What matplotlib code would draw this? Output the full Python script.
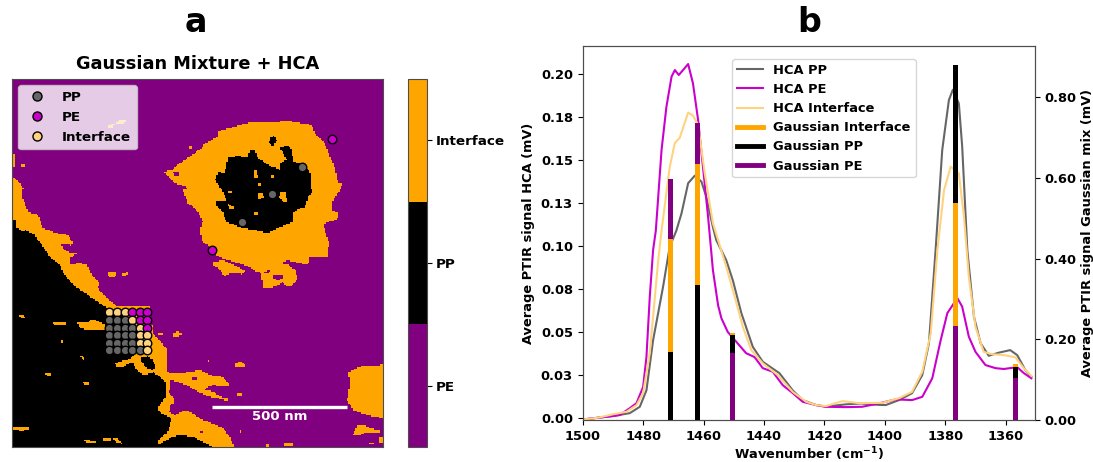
import numpy as np
import matplotlib
matplotlib.use("Agg")
import matplotlib.pyplot as plt
from matplotlib.colors import ListedColormap
from matplotlib.lines import Line2D
from matplotlib.path import Path

plt.rcParams["font.family"] = "DejaVu Sans"
plt.rcParams["font.weight"] = "bold"
plt.rcParams["axes.labelweight"] = "bold"
plt.rcParams["axes.titleweight"] = "bold"
plt.rcParams["axes.edgecolor"] = "#4d4d4d"
plt.rcParams["mathtext.default"] = "bf"

W, H = 1093, 462

PURPLE = "#800080"
ORANGE = "#FFA500"
GREY = "#666666"
MAGENTA = "#CC00CC"
PALE = "#FFD27F"

# spectra
pp_wn = [1500, 1495, 1490, 1484.4, 1481.1, 1478.9, 1476.7, 1473.4, 1471.2, 1469, 1467.3, 1465.1, 1462.9, 1460.7, 1459.1, 1456.9, 1455.8, 1452.5, 1450.3, 1447.5, 1443.7, 1440.4, 1434.9, 1430.5, 1427.2, 1422.8, 1419.5, 1413, 1408, 1402, 1399.7, 1395.3, 1391, 1387.6, 1385.4, 1383.2, 1381, 1378.8, 1377.5, 1375.5, 1374.4, 1372.7, 1370.5, 1368.3, 1365.6, 1362.3, 1358.5, 1356.2, 1353.5, 1351.5]
pp_sig = [-0.001, 0.0, 0.001, 0.0027, 0.0064, 0.016, 0.0452, 0.0763, 0.0996, 0.109, 0.119, 0.1366, 0.141, 0.1375, 0.1287, 0.111, 0.1035, 0.0918, 0.08, 0.061, 0.0413, 0.0326, 0.026, 0.016, 0.0103, 0.0074, 0.0065, 0.0078, 0.0083, 0.0075, 0.0074, 0.0103, 0.0143, 0.0249, 0.0434, 0.0977, 0.156, 0.185, 0.191, 0.183, 0.158, 0.0977, 0.0588, 0.0434, 0.0361, 0.0379, 0.0394, 0.0365, 0.0278, 0.0239]

pe_wn = [1500, 1495, 1490, 1487.7, 1484.4, 1482.2, 1480, 1478.9, 1477.8, 1476.7, 1475.8, 1473.9, 1472.3, 1470.6, 1469.5, 1468.2, 1465.1, 1463.5, 1461.8, 1460.2, 1458.5, 1456.9, 1455.2, 1454.1, 1452, 1449.2, 1445.9, 1443.1, 1440.4, 1437.1, 1433.8, 1430.5, 1427.2, 1422.8, 1419.5, 1412.9, 1407.5, 1401.9, 1396.4, 1391, 1387.6, 1384.3, 1381.5, 1379.3, 1376, 1374.4, 1372.2, 1370, 1366.7, 1363.4, 1360.6, 1356.2, 1354, 1351.5]
pe_sig = [-0.001, 0.0, 0.001, 0.0016, 0.0056, 0.0085, 0.018, 0.0355, 0.0705, 0.0977, 0.109, 0.156, 0.181, 0.1986, 0.2025, 0.1996, 0.206, 0.1947, 0.1734, 0.1462, 0.117, 0.086, 0.0656, 0.058, 0.05, 0.0443, 0.0376, 0.0353, 0.0289, 0.0268, 0.019, 0.0144, 0.0093, 0.0074, 0.0064, 0.0062, 0.0064, 0.0084, 0.0107, 0.0103, 0.0122, 0.023, 0.0453, 0.061, 0.0697, 0.0647, 0.0472, 0.0384, 0.0307, 0.0289, 0.0284, 0.0295, 0.026, 0.023]

int_wn = [1500, 1495, 1490, 1485.5, 1482.2, 1480, 1477.8, 1476.1, 1475, 1473.9, 1471.2, 1469.5, 1467.9, 1465.1, 1463.5, 1461.8, 1459.6, 1456.9, 1452.5, 1449.7, 1447, 1444.2, 1440.4, 1435.4, 1430.5, 1426, 1422.8, 1419.5, 1414, 1408.5, 1400.8, 1395.3, 1391, 1387.6, 1384.8, 1382.6, 1380.4, 1378.2, 1375.5, 1373.8, 1372.2, 1370, 1367.3, 1364.5, 1360.6, 1356.8, 1354, 1351.5]
int_sig = [-0.001, 0.0, 0.002, 0.0035, 0.0074, 0.0144, 0.0377, 0.0705, 0.0918, 0.109, 0.146, 0.16, 0.163, 0.1777, 0.176, 0.1705, 0.1423, 0.1133, 0.088, 0.0705, 0.053, 0.0394, 0.0317, 0.0248, 0.0151, 0.0093, 0.0074, 0.0068, 0.0097, 0.0085, 0.0087, 0.0114, 0.0151, 0.0268, 0.0493, 0.0977, 0.1326, 0.1462, 0.1423, 0.117, 0.0821, 0.053, 0.0384, 0.037, 0.0365, 0.0352, 0.0289, 0.0243]

# gaussian mixture peaks
peak_wn = [1471, 1462, 1450.4, 1376.6, 1356.8]
gauss_pp = [0.1685, 0.335, 0.211, 0.881, 0.132]
gauss_int = [0.449, 0.634, 0.216, 0.537, 0.138]
gauss_pe = [0.597, 0.737, 0.167, 0.234, 0.105]

left_ticks = [0, 0.025, 0.05, 0.075, 0.1, 0.125, 0.15, 0.175, 0.2]
left_labels = ["0.00", "0.03", "0.05", "0.08", "0.10", "0.13", "0.15", "0.18", "0.20"]
right_ticks = [0, 0.2, 0.4, 0.6, 0.8]
wn_ticks = [1500, 1480, 1460, 1440, 1420, 1400, 1380, 1360]
class_names = ["PE", "PP", "Interface"]

# map regions, outlines (picture pixels)
interface_regions = [
    # central particle
    [(163, 172), (172, 170), (180, 163), (188, 158), (202, 148), (205, 143), (217, 137), (218, 131), (230, 128), (252, 122), (270, 123), (287, 121), (312, 125), (315, 133), (325, 143), (330, 157), (335, 168), (338, 183), (343, 184), (338, 193), (332, 202), (332, 210), (338, 213), (338, 218), (323, 225), (329, 242), (328, 257), (310, 257), (308, 265), (295, 262), (287, 260), (281, 263), (288, 265), (295, 270), (298, 278), (293, 285), (287, 287), (283, 282), (278, 285), (270, 288), (263, 288), (261, 273), (255, 271), (250, 267), (235, 262), (223, 258), (207, 251), (210, 247), (202, 241), (200, 230), (203, 222), (198, 212), (188, 203), (183, 190), (188, 188), (175, 183), (168, 177)],
    [(213, 262), (223, 260), (237, 267), (245, 271), (242, 274), (230, 273), (225, 277), (220, 270), (213, 265)],
    # band along the big particle
    [(12, 175), (17, 180), (23, 188), (22, 197), (28, 212), (38, 215), (43, 228), (53, 232), (67, 235), (73, 242), (72, 245), (60, 244), (67, 252), (78, 253), (70, 258), (70, 265), (78, 263), (87, 265), (93, 277), (99, 283), (98, 288), (107, 298), (117, 306), (150, 307), (152, 327), (152, 333), (158, 338), (167, 350), (167, 365), (168, 373), (183, 373), (200, 370), (210, 375), (223, 377), (230, 385), (227, 387), (213, 385), (207, 387), (205, 390), (213, 392), (222, 397), (228, 398), (227, 401), (217, 398), (210, 397), (200, 393), (187, 385), (177, 382), (170, 380), (169, 393), (175, 400), (175, 403), (170, 405), (169, 412), (175, 415), (185, 410), (192, 413), (203, 420), (223, 428), (230, 437), (234, 447), (150, 447), (12, 447)],
    # lower right particle
    [(383, 365), (362, 366), (348, 372), (350, 383), (347, 400), (353, 410), (367, 415), (383, 418)],
    [(353, 435), (358, 425), (363, 425), (370, 428), (380, 430), (380, 432), (367, 432), (358, 436)],
    [(368, 442), (375, 442), (375, 444), (368, 444)],
    [(378, 437), (383, 437), (383, 443), (379, 443)],
    [(285, 442), (293, 442), (293, 446), (285, 446)],
    [(265, 444), (269, 444), (269, 447), (265, 447)],
    # small islands in the PE phase
    [(108, 272), (117, 272), (117, 276), (112, 278), (108, 276)],
    [(122, 274), (127, 272), (129, 275), (123, 276)],
    [(159, 333), (162, 333), (162, 336), (159, 336)],
    [(172, 334), (178, 331), (182, 334), (178, 337), (173, 337)],
    [(235, 364), (240, 361), (245, 364), (245, 367), (236, 367)],
    [(207, 360), (209, 360), (209, 362), (207, 362)],
    [(237, 394), (243, 393), (243, 397), (237, 397)],
    [(239, 430), (241, 430), (241, 432), (239, 432)],
    [(107, 125), (115, 124), (113, 128), (107, 128)],
    [(117, 122), (122, 119), (127, 120), (125, 123), (117, 124)],
    [(189, 146), (192, 146), (192, 148), (189, 148)],
    [(12, 155), (15, 155), (15, 167), (12, 167)],
    [(21, 165), (25, 165), (25, 168), (21, 168)],
]

pe_holes = [
    [(173, 172), (179, 172), (179, 177), (175, 176)],
    [(273, 274), (283, 274), (283, 278), (278, 281), (273, 278)],
    [(263, 272), (270, 270), (267, 274)],
    [(192, 378), (197, 378), (197, 381), (192, 381)],
    [(200, 431), (203, 431), (203, 433), (200, 433)],
]

pp_regions = [
    # central core
    [(215, 180), (218, 172), (225, 173), (228, 158), (238, 156), (247, 158), (250, 150), (255, 150), (258, 158), (268, 165), (280, 170), (280, 163), (287, 160), (280, 148), (287, 145), (292, 150), (293, 162), (303, 163), (310, 173), (310, 187), (313, 192), (308, 197), (305, 207), (293, 212), (293, 222), (285, 225), (267, 233), (255, 230), (242, 228), (227, 222), (223, 213), (217, 207), (217, 201), (227, 200), (222, 190)],
    [(270, 138), (274, 135), (277, 141), (273, 146), (269, 143)],
    # big particle, lower left
    [(12, 228), (18, 228), (22, 232), (25, 230), (35, 235), (37, 240), (42, 245), (50, 257), (60, 265), (63, 273), (73, 285), (85, 293), (98, 302), (107, 308), (130, 318), (140, 340), (140, 350), (138, 353), (134, 354), (130, 359), (122, 361), (115, 363), (117, 367), (123, 367), (132, 362), (138, 372), (145, 375), (153, 372), (158, 375), (165, 382), (165, 397), (158, 408), (160, 412), (172, 418), (167, 433), (158, 440), (158, 445), (170, 438), (180, 435), (193, 437), (200, 440), (213, 447), (12, 447)],
    [(12, 220), (17, 220), (17, 228), (12, 228)],
    [(12, 210), (14, 210), (14, 215), (12, 215)],
]

# orange specks inside the black regions
interface_over_pp = [
    [(254, 170), (257, 170), (258, 178), (254, 178)],
    [(227, 190), (232, 190), (232, 194), (228, 194)],
    [(258, 193), (262, 193), (264, 198), (259, 199)],
    [(281, 192), (285, 192), (288, 202), (283, 202), (279, 198)],
    [(227, 203), (235, 208), (230, 210)],
    [(254, 212), (259, 212), (259, 215), (254, 215)],
    [(271, 175), (274, 175), (274, 177), (271, 177)],
    [(259, 184), (261, 184), (261, 186), (259, 186)],
    [(19, 315), (25, 316), (25, 318), (21, 318)],
    [(53, 323), (66, 322), (66, 325), (55, 326)],
    [(77, 323), (88, 322), (93, 319), (105, 325), (105, 329), (90, 330), (80, 328)],
    [(61, 340), (63, 340), (63, 342), (61, 342)],
    [(80, 355), (84, 357), (85, 360), (81, 358)],
    [(45, 373), (52, 373), (50, 376), (47, 376)],
    [(83, 381), (88, 382), (89, 384), (84, 384)],
    [(12, 426), (29, 426), (29, 429), (22, 431), (12, 429)],
    [(84, 440), (96, 441), (96, 443), (86, 443)],
    [(103, 439), (111, 438), (111, 441), (103, 442)],
    [(113, 438), (118, 439), (122, 444), (117, 442)],
]
# black pocket in the orange arm under the point grid
pp_holes = [
    [(140, 358), (148, 356), (153, 360), (156, 368), (152, 370), (145, 367)],
]

# spectrum sampling positions, picture pixels
grid_x = [109.3, 117, 124.5, 132, 139.5, 147]
grid_y = [312, 320, 327.5, 335, 342.5, 350]
grid_labels = [
    "IIIEEE",
    "PPPIEE",
    "PPPPIE",
    "PPPPII",
    "PPPPII",
    "PPPPPI",
]
extra_x = [302, 272, 242, 332, 212]
extra_y = [167, 194, 222, 139, 250]
extra_labels = ["P", "P", "P", "E", "E"]
point_colors = {"P": GREY, "E": MAGENTA, "I": PALE}

# build the class map
map_left, map_right, map_top, map_bottom = 12, 383, 79, 447
nx, ny = 256, 254
xc = map_left + (np.arange(nx) + 0.5) * (map_right - map_left) / nx
yc = map_top + (np.arange(ny) + 0.5) * (map_bottom - map_top) / ny
xx, yy = np.meshgrid(xc, yc)
pts = np.column_stack([xx.ravel(), yy.ravel()])
classes = np.zeros((ny, nx), dtype=int)


def paint(regions, value):
    for poly in regions:
        inside = Path(poly).contains_points(pts).reshape(ny, nx)
        classes[inside] = value


paint(interface_regions, 2)
paint(pe_holes, 0)
paint(pp_regions, 1)
paint(interface_over_pp, 2)
paint(pp_holes, 1)


def ax_px(left, top, right, bottom):
    return [left / W, 1 - bottom / H, (right - left) / W, (bottom - top) / H]


fig = plt.figure(figsize=(W / 100, H / 100), dpi=100)

# panel a
ax = fig.add_axes(ax_px(map_left, map_top, map_right, map_bottom))
im = ax.imshow(classes, cmap=ListedColormap([PURPLE, "black", ORANGE]), vmin=-0.5, vmax=2.5,
               extent=(map_left, map_right, map_bottom, map_top), aspect="auto", interpolation="nearest")
ax.set_xticks([])
ax.set_yticks([])
ax.set_title("Gaussian Mixture + HCA", fontsize=12.8, pad=7.5)

for row, y in zip(grid_labels, grid_y):
    for lab, x in zip(row, grid_x):
        ax.scatter(x, y, s=38, color=point_colors[lab], edgecolor="black", linewidth=1.0, zorder=3)
for x, y, lab in zip(extra_x, extra_y, extra_labels):
    ax.scatter(x, y, s=38, color=point_colors[lab], edgecolor="black", linewidth=1.0, zorder=3)

handles = [Line2D([], [], linestyle="none", marker="o", markersize=6.5, markerfacecolor=c,
                  markeredgecolor="black", label=n)
           for c, n in [(GREY, "PP"), (MAGENTA, "PE"), (PALE, "Interface")]]
ax.legend(handles=handles, loc="upper left", bbox_to_anchor=(18 / W, 1 - 85 / H),
          bbox_transform=fig.transFigure, borderaxespad=0, fontsize=9.7, framealpha=0.8,
          borderpad=0.42, handletextpad=0.85, labelspacing=0.52)

ax.plot([212, 347], [407, 407], color="white", lw=2.4, solid_capstyle="butt")
ax.text(280, 416, "500 nm", color="white", fontsize=9.5, ha="center", va="center")
ax.set_xlim(map_left, map_right)
ax.set_ylim(map_bottom, map_top)

cax = fig.add_axes(ax_px(408, 79, 427, 447))
cbar = fig.colorbar(im, cax=cax, ticks=[0, 1, 2])
cbar.ax.set_yticklabels(class_names, fontsize=9.7)
cbar.ax.tick_params(pad=2.5)

# panel b
ax1 = fig.add_axes(ax_px(582.7, 46, 1035, 420))
ax1.plot(pp_wn, pp_sig, color=GREY, lw=1.5, label="HCA PP")
ax1.plot(pe_wn, pe_sig, color=MAGENTA, lw=1.5, label="HCA PE")
ax1.plot(int_wn, int_sig, color=PALE, lw=1.5, label="HCA Interface")
ax1.set_xlim(1500, 1350.3)
ax1.set_ylim(-0.0013, 0.2165)
ax1.set_yticks(left_ticks)
ax1.set_yticklabels(left_labels)
ax1.set_xticks(wn_ticks)
ax1.tick_params(labelsize=9.4)
ax1.set_xlabel(r"Wavenumber (cm$^{-1}$)", fontsize=9.4, labelpad=2)
ax1.set_ylabel("Average PTIR signal HCA (mV)", fontsize=9.4, labelpad=4)

ax2 = ax1.twinx()
for i, wn in enumerate(peak_wn):
    parts = sorted([(gauss_pp[i], "black"), (gauss_int[i], ORANGE), (gauss_pe[i], PURPLE)], reverse=True)
    for order, (top, color) in enumerate(parts):
        ax2.bar(wn, top, width=1.75, color=color, zorder=2 + order)
ax2.set_ylim(0, 0.927)
ax2.set_yticks(right_ticks)
ax2.set_yticklabels([f"{t:.2f}" for t in right_ticks])
ax2.tick_params(labelsize=9.4)
ax2.set_ylabel("Average PTIR signal Gaussian mix (mV)", fontsize=9.4, labelpad=3)

leg_handles = ax1.get_lines()[:3] + [
    Line2D([], [], color=ORANGE, lw=3.5, label="Gaussian Interface"),
    Line2D([], [], color="black", lw=3.5, label="Gaussian PP"),
    Line2D([], [], color=PURPLE, lw=3.5, label="Gaussian PE"),
]
ax2.legend(handles=leg_handles, loc="upper left", bbox_to_anchor=(732 / W, 1 - 59 / H),
           bbox_transform=fig.transFigure, borderaxespad=0, fontsize=9.4, labelspacing=0.47,
           borderpad=0.37)

fig.text(196 / W, 1 - 23 / H, "a", fontsize=24, ha="center", va="center")
fig.text(809 / W, 1 - 22 / H, "b", fontsize=24, ha="center", va="center")

fig.savefig("out.png", dpi=100)
